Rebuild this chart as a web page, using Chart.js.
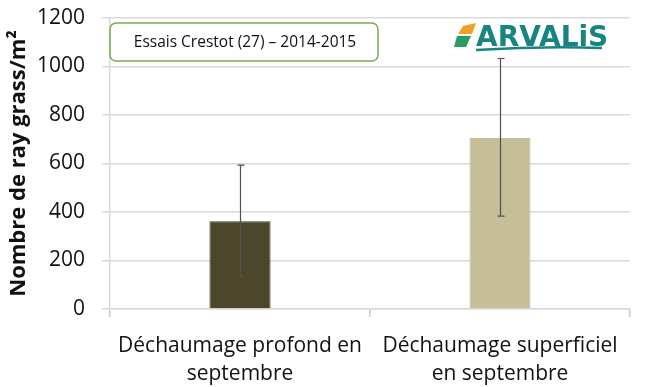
<!DOCTYPE html>
<html>
<head>
<meta charset="utf-8">
<script src="https://cdn.jsdelivr.net/npm/chart.js@4"></script>
<style>
  html, body { margin: 0; padding: 0; background: #fff; }
  #wrap { width: 645px; height: 387px; position: relative; }
</style>
</head>
<body>
<div id="wrap"><canvas id="chart" width="645" height="387"></canvas></div>
<script>
// données
const categories = [['Déchaumage profond en', 'septembre'], ['Déchaumage superficiel', 'en septembre']];
const values = [362, 705];
const errLow = [132, 383];
const errHigh = [593, 1033];
const barColors = ['#4b4529', '#c6be98'];
const yTicks = [0, 200, 400, 600, 800, 1000, 1200];

const FONT = '"Open Sans", sans-serif';

// barres d'erreur
const errorBars = {
  id: 'errorBars',
  afterDatasetsDraw(chart) {
    const ctx = chart.ctx;
    const meta = chart.getDatasetMeta(0);
    const y = chart.scales.y;
    ctx.save();
    ctx.strokeStyle = '#505050';
    ctx.lineWidth = 1.2;
    meta.data.forEach((bar, i) => {
      const x = Math.round(bar.x) + 0.5;
      const top = y.getPixelForValue(errHigh[i]);
      const bot = y.getPixelForValue(errLow[i]);
      ctx.beginPath();
      ctx.moveTo(x, top); ctx.lineTo(x, bot);
      ctx.moveTo(x - 3, top); ctx.lineTo(x + 4, top);
      ctx.moveTo(x - 3, bot); ctx.lineTo(x + 4, bot);
      ctx.stroke();
    });
    ctx.restore();
  }
};

// encadré du titre + logo
const decorations = {
  id: 'decorations',
  afterDraw(chart) {
    const ctx = chart.ctx;
    ctx.save();
    // encadré
    ctx.fillStyle = '#fff';
    ctx.strokeStyle = '#78ad50';
    ctx.lineWidth = 1.5;
    ctx.beginPath();
    ctx.roundRect(110, 23, 268, 38, 6);
    ctx.fill();
    ctx.stroke();
    ctx.fillStyle = '#111';
    ctx.font = '15.5px ' + FONT;
    ctx.textAlign = 'center';
    ctx.textBaseline = 'middle';
    ctx.fillText('Essais Crestot (27) – 2014-2015', 245, 43);

    // logo ARVALIS
    ctx.fillStyle = '#f0a020';
    ctx.beginPath();
    ctx.moveTo(458, 34); ctx.lineTo(463, 26); ctx.lineTo(476, 23); ctx.lineTo(472, 34); ctx.closePath();
    ctx.fill();
    ctx.fillStyle = '#2b9a6a';
    ctx.beginPath();
    ctx.moveTo(454, 47); ctx.lineTo(457, 36); ctx.lineTo(471, 36); ctx.lineTo(466, 47); ctx.closePath();
    ctx.fill();
    ctx.fillStyle = '#17847f';
    ctx.font = 'bold 28px "DejaVu Sans", sans-serif';
    ctx.textAlign = 'left';
    ctx.textBaseline = 'alphabetic';
    ctx.fillText('ARVALiS', 476, 46);
    ctx.strokeStyle = '#17847f';
    ctx.lineWidth = 2.5;
    ctx.beginPath();
    ctx.moveTo(476, 50);
    ctx.quadraticCurveTo(540, 46, 602, 48);
    ctx.stroke();
    ctx.restore();
  }
};

new Chart(document.getElementById('chart'), {
  type: 'bar',
  data: {
    labels: categories,
    datasets: [{
      data: values,
      backgroundColor: barColors,
      borderColor: ['#3a3520', '#c6be98'],
      borderWidth: 1,
      barPercentage: 0.235,
      categoryPercentage: 1
    }]
  },
  options: {
    responsive: false,
    animation: false,
    layout: { padding: { top: 18, right: 15, left: 6, bottom: 0 } },
    plugins: { legend: { display: false }, tooltip: { enabled: false } },
    scales: {
      x: {
        grid: { display: true, drawOnChartArea: false, offset: true, color: '#c8c8c8', tickLength: 8, lineWidth: 1.5 },
        border: { color: '#d9d9d9', width: 1.5 },
        ticks: { color: '#111', font: { family: FONT, size: 21, lineHeight: 1.32 }, maxRotation: 0, padding: 15 },
        afterFit(scale) { scale.height = 78; scale.paddingLeft = 0; scale.paddingRight = 0; }
      },
      y: {
        min: 0,
        max: 1200,
        afterBuildTicks(scale) { scale.ticks = yTicks.map(v => ({ value: v })); },
        grid: { color: '#d9d9d9', lineWidth: 1.5, tickLength: 8 },
        border: { color: '#d9d9d9', width: 1.5 },
        ticks: { color: '#111', font: { family: FONT, size: 21 }, padding: 17, callback: v => String(v) },
        title: {
          display: true,
          text: 'Nombre de ray grass/m²',
          color: '#111',
          font: { family: FONT, size: 22, weight: 'bold' },
          padding: { top: 0, bottom: 0 }
        },
        afterFit(scale) { scale.width = 104; scale.paddingTop = 0; scale.paddingBottom = 0; }
      }
    }
  },
  plugins: [errorBars, decorations]
});
</script>
</body>
</html>
